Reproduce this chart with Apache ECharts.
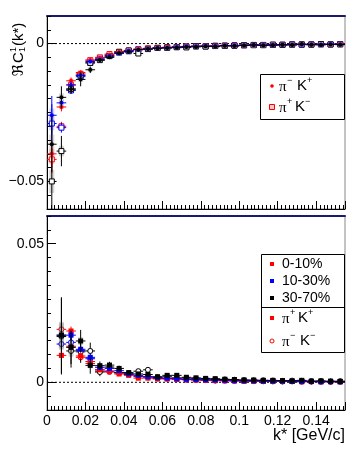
<!DOCTYPE html>
<html><head><meta charset="utf-8">
<script src="https://cdn.jsdelivr.net/npm/echarts@6/dist/echarts.min.js"></script>
<style>html,body{margin:0;padding:0;background:#fff}#c{width:363px;height:457px}</style>
</head><body><div id="c"></div>
<script>
// ---------- DATA ----------
const kTop = [0.0025,0.0075,0.0125,0.0175,0.0225,0.0275,0.0325,0.0375,0.0425,0.0475,0.0525,0.0575,0.0625,0.0675,0.0725,0.0775,0.0825,0.0875,0.0925,0.0975,0.1025,0.1075,0.1125,0.1175,0.1225,0.1275,0.1325,0.1375,0.1425,0.1475,0.1525];
const kBot = [0.0075,0.0125,0.0175,0.0225,0.0275,0.0325,0.0375,0.0425,0.0475,0.0525,0.0575,0.0625,0.0675,0.0725,0.0775,0.0825,0.0875,0.0925,0.0975,0.1025,0.1075,0.1125,0.1175,0.1225,0.1275,0.1325,0.1375,0.1425,0.1475,0.1525];

// top panel: pi- K+ (filled circles)
const pimKp_0_10  = [-0.040,-0.023,-0.0135,-0.0105,-0.006,-0.0052,-0.004,-0.003,-0.0025,-0.002,-0.0018,-0.0015,-0.0014,-0.0012,-0.0011,-0.001,-0.0009,-0.0008,-0.0008,-0.0007,-0.0006,-0.0006,-0.0005,-0.0005,-0.0004,-0.0004,-0.0003,-0.0004,-0.0003,-0.0003,-0.0002];
const pimKp_10_30 = [-0.026,-0.0215,-0.015,-0.0115,-0.0065,-0.0058,-0.0045,-0.0035,-0.0026,-0.0022,-0.0019,-0.0016,-0.0015,-0.0012,-0.0011,-0.001,-0.0009,-0.0009,-0.0007,-0.0007,-0.0006,-0.0006,-0.0005,-0.0004,-0.0005,-0.0004,-0.0003,-0.0003,-0.0003,-0.0002,-0.0003];
const pimKp_30_70 = [-0.0365,-0.0195,-0.0165,-0.013,-0.0095,-0.006,-0.005,-0.0035,-0.003,-0.0022,-0.002,-0.0017,-0.0016,-0.0015,-0.0012,-0.0012,-0.001,-0.0011,-0.0008,-0.0009,-0.0007,-0.0005,-0.0007,-0.0006,-0.0004,-0.0005,-0.0002,-0.0004,-0.0005,-0.0003,-0.0004];
// top panel: pi+ K- (open squares)
const pipKm_0_10  = [-0.042,-0.030,-0.015,-0.011,-0.006,-0.005,-0.0038,-0.003,-0.0025,-0.002,-0.0017,-0.0015,-0.0013,-0.0012,-0.001,-0.0009,-0.0009,-0.0008,-0.0007,-0.0006,-0.0006,-0.0005,-0.0005,-0.0004,-0.0004,-0.0003,-0.0003,-0.0003,-0.0002,-0.0003,-0.0002];
const pipKm_10_30 = [-0.029,-0.0305,-0.017,-0.012,-0.007,-0.0055,-0.0045,-0.0033,-0.0028,-0.0022,-0.0019,-0.0016,-0.0015,-0.0013,-0.0011,-0.001,-0.001,-0.0008,-0.0008,-0.0007,-0.0006,-0.0005,-0.0005,-0.0005,-0.0004,-0.0003,-0.0004,-0.0003,-0.0003,-0.0003,-0.0002];
const pipKm_30_70 = [-0.050,-0.039,-0.0165,-0.0115,-0.007,-0.006,-0.0045,-0.003,-0.0025,-0.0036,-0.002,-0.0016,-0.0015,-0.0013,-0.0014,-0.001,-0.0011,-0.0009,-0.0008,-0.0008,-0.0006,-0.0006,-0.0006,-0.0004,-0.0005,-0.0004,-0.0003,-0.0004,-0.0002,-0.0003,-0.0003];
// top panel stat errors
const errTopSmall = [0.005,0.0016,0.0012,0.0008,0.0006,0.0005,0.0004,0.0004,0.0003,0.0003,0.0003,0.0003,0.0003,0.0002,0.0002,0.0002,0.0002,0.0002,0.0002,0.0002,0.0002,0.0002,0.0002,0.0002,0.0002,0.0002,0.0002,0.0002,0.0002,0.0002,0.0002];
const errTopBlue  = [0.007,0.0018,0.0012,0.0008,0.0006,0.0005,0.0004,0.0004,0.0003,0.0003,0.0003,0.0003,0.0003,0.0002,0.0002,0.0002,0.0002,0.0002,0.0002,0.0002,0.0002,0.0002,0.0002,0.0002,0.0002,0.0002,0.0002,0.0002,0.0002,0.0002,0.0002];
const errTopBlackF= [0.010,0.004,0.0016,0.0025,0.0012,0.0008,0.0006,0.0006,0.0005,0.0005,0.0004,0.0004,0.0004,0.0003,0.0003,0.0003,0.0003,0.0003,0.0003,0.0003,0.0003,0.0003,0.0003,0.0003,0.0003,0.0003,0.0003,0.0003,0.0003,0.0003,0.0003];
const errTopBlackO= [0.012,0.0055,0.0016,0.0012,0.001,0.0008,0.0006,0.0006,0.0005,0.0005,0.0004,0.0004,0.0004,0.0003,0.0003,0.0003,0.0003,0.0003,0.0003,0.0003,0.0003,0.0003,0.0003,0.0003,0.0003,0.0003,0.0003,0.0003,0.0003,0.0003,0.0003];

// bottom panel: pi+ K+ (filled squares)
const pipKp_0_10  = [0.0097,0.0185,0.0095,0.0068,0.0045,0.004,0.003,0.0025,0.0015,0.0015,0.0012,0.0012,0.001,0.0009,0.0008,0.0007,0.0006,0.0005,0.0005,0.0004,0.0004,0.0003,0.0004,0.0003,0.0003,0.0002,0.0003,0.0002,0.0002,0.0002];
const pipKp_10_30 = [0.017,0.017,0.0119,0.009,0.0054,0.005,0.0042,0.003,0.0025,0.002,0.0016,0.0015,0.0013,0.0011,0.001,0.0009,0.0008,0.0007,0.0006,0.0005,0.0005,0.0004,0.0004,0.0004,0.0003,0.0003,0.0003,0.0002,0.0003,0.0002];
const pipKp_30_70 = [0.017,0.0126,0.0149,0.0061,0.006,0.0062,0.005,0.0035,0.003,0.0028,0.002,0.0025,0.0025,0.0018,0.0016,0.0014,0.0013,0.0011,0.001,0.0008,0.0008,0.0007,0.0007,0.0006,0.0005,0.0007,0.0004,0.0005,0.0004,0.0003];
// bottom panel: pi- K- (open circles)
const pimKm_0_10  = [0.0191,0.013,0.009,0.0075,0.004,0.0037,0.0033,0.0028,0.002,0.0018,0.0014,0.0013,0.0011,0.001,0.0009,0.0008,0.0006,0.0006,0.0005,0.0005,0.0004,0.0004,0.0003,0.0003,0.0003,0.0002,0.0002,0.0003,0.0002,0.0002];
const pimKm_10_30 = [0.0138,0.0144,0.0115,0.0085,0.0045,0.004,0.0035,0.003,0.0022,0.002,0.0015,0.0014,0.0012,0.001,0.0009,0.0008,0.0007,0.0007,0.0006,0.0005,0.0005,0.0004,0.0004,0.0003,0.0004,0.0003,0.0003,0.0002,0.0002,0.0002];
const pimKm_30_70 = [0.0165,0.0113,0.011,0.0113,0.0037,0.0055,0.0035,0.003,0.004,0.0045,0.0018,0.002,0.0016,0.0015,0.0013,0.0012,0.001,0.001,0.0009,0.0008,0.0007,0.0007,0.0006,0.0005,0.0006,0.0005,0.0004,0.0004,0.0003,0.0004];
// bottom panel stat errors
const errBotSmall = [0.0018,0.0016,0.0012,0.001,0.0008,0.0006,0.0005,0.0004,0.0004,0.0003,0.0003,0.0003,0.0003,0.0002,0.0002,0.0002,0.0002,0.0002,0.0002,0.0002,0.0002,0.0002,0.0002,0.0002,0.0002,0.0002,0.0002,0.0002,0.0002,0.0002];
const errBotBlack = [0.0137,0.006,0.004,0.003,0.0015,0.0012,0.001,0.0008,0.0007,0.0006,0.0005,0.0005,0.0004,0.0004,0.0003,0.0003,0.0003,0.0003,0.0003,0.0003,0.0003,0.0003,0.0003,0.0003,0.0003,0.0003,0.0003,0.0003,0.0003,0.0003];

const xTicks = [0,0.02,0.04,0.06,0.08,0.1,0.12,0.14];
const yTopLabels = [-0.05,0];
const yBotLabels = [0,0.05];

// ---------- RENDER ----------
const RED='#ff0000', BLUE='#0000ff', BLACK='#000000';
const LIGHT={[RED]:'rgba(255,110,110,0.3)',[BLUE]:'rgba(110,110,255,0.3)',[BLACK]:'rgba(90,90,90,0.25)'};
const HALFBIN = 0.0025;

function makeRender(color, shape){
  return function(params, api){
    const k=api.value(0), v=api.value(1), e=api.value(2);
    const c=api.coord([k,v]);
    const l=api.coord([k-HALFBIN,v]), r=api.coord([k+HALFBIN,v]);
    const t=api.coord([k,v+e]), b=api.coord([k,v-e]);
    const sh=Math.max(2.5, Math.abs(c[1]-t[1])*0.35);
    const ch=[
      {type:'rect',shape:{x:c[0]-2.5,y:c[1]-sh,width:5,height:2*sh},style:{fill:LIGHT[color]}},
      {type:'line',shape:{x1:l[0],y1:c[1],x2:r[0],y2:c[1]},style:{stroke:color,lineWidth:1}},
      {type:'line',shape:{x1:c[0],y1:t[1],x2:c[0],y2:b[1]},style:{stroke:color,lineWidth:1}}
    ];
    if(shape==='dot') ch.push({type:'circle',shape:{cx:c[0],cy:c[1],r:2},style:{fill:color}});
    if(shape==='osq') ch.push({type:'rect',shape:{x:c[0]-2.5,y:c[1]-2.5,width:5,height:5},style:{fill:'#fff',stroke:color,lineWidth:1}});
    if(shape==='fsq') ch.push({type:'rect',shape:{x:c[0]-2.5,y:c[1]-2.5,width:5,height:5},style:{fill:color}});
    if(shape==='ocirc') ch.push({type:'circle',shape:{cx:c[0],cy:c[1],r:2.5},style:{fill:'#fff',stroke:color,lineWidth:1}});
    return {type:'group',children:ch};
  };
}
function ser(grid, ks, vals, errs, color, shape){
  return {type:'custom',xAxisIndex:grid,yAxisIndex:grid*2,clip:true,
    data:ks.map((k,i)=>[k,vals[i],errs[i]]),renderItem:makeRender(color,shape),z:3};
}
function zeroLine(grid){
  return {type:'line',xAxisIndex:grid,yAxisIndex:grid*2,data:[[0,0],[0.155,0]],symbol:'none',silent:true,
    lineStyle:{color:'#000',width:1,type:[2,2]},z:1};
}
const FONT='Liberation Sans';
function xAx(grid, labels){
  return {type:'value',gridIndex:grid,min:0,max:0.155,interval:0.02,position:'bottom',
    axisLine:{show:true,onZero:false,lineStyle:{color:'#000',width:1}},
    axisTick:{show:true,inside:true,length:8,lineStyle:{color:'#000'}},
    minorTick:{show:true,splitNumber:10,length:4,lineStyle:{color:'#000'}},
    splitLine:{show:false},
    axisLabel:{show:labels,margin:4,fontSize:14,fontFamily:FONT,color:'#000',
      formatter:v=>{const f=xTicks.find(t=>Math.abs(t-v)<1e-9);return f===undefined?'':String(f);}}};
}
function xTop(grid){
  return {type:'value',gridIndex:grid,min:0,max:0.155,position:'top',
    axisLine:{show:true,onZero:false,lineStyle:{color:'#1a1a6e',width:2}},
    axisTick:{show:false},axisLabel:{show:false},splitLine:{show:false}};
}
function yAx(grid,min,max,labs){
  return {type:'value',gridIndex:grid,min:min,max:max,interval:0.005,position:'left',
    axisLine:{show:true,onZero:false,lineStyle:{color:'#000',width:1}},
    axisTick:{show:true,inside:true,length:4,lineStyle:{color:'#000'}},
    splitLine:{show:false},
    axisLabel:{show:true,margin:3,fontSize:14,fontFamily:FONT,color:'#000',
      formatter:v=>{const f=labs.find(t=>Math.abs(t-v)<1e-9);return f===undefined?'':(f<0?'\u2212'+String(-f):String(f));}}};
}
function yLong(grid,min,max,labs){
  return {type:'value',gridIndex:grid,min:min,max:max,position:'left',
    axisLine:{show:false,onZero:false},
    axisTick:{show:true,inside:true,length:9,customValues:labs,lineStyle:{color:'#000'}},
    axisLabel:{show:false},splitLine:{show:false}};
}

const chart=echarts.init(document.getElementById('c'),null,{renderer:'canvas'});

function txt(x,y,s,size,fam,align){return {type:'text',x:x,y:y,z:20,silent:true,style:{text:s,fontSize:size,fontFamily:fam||FONT,fill:'#000',textAlign:align||'left',textVerticalAlign:'middle'}};}
const SERIF='Liberation Serif';

const graphics=[
  // y title
  {type:'group',x:19,y:47,rotation:Math.PI/2,silent:true,children:[
    txt(-29,0,'\u211C',15,'DejaVu Sans'),
    txt(-16,0,'C',15),
    txt(-5,-5,'1',9),
    txt(-5,4,'1',9),
    txt(1,0,'(k*)',15)
  ]},
  // x title
  txt(345,436,'k* [GeV/c]',16,FONT,'right'),
  // top legend
  {type:'rect',shape:{x:260.5,y:74.5,width:84,height:45},style:{fill:'#fff',stroke:'#000',lineWidth:1},z:10},
  {type:'circle',shape:{cx:272,cy:86,r:1.8},style:{fill:RED},z:11},
  txt(279,87,'\u03C0',15,SERIF), txt(287,81,'\u2212',9), txt(297,86,'K',15), txt(307,81,'+',9),
  {type:'rect',shape:{x:269.5,y:104.5,width:5,height:5},style:{fill:'rgba(255,120,120,0.4)',stroke:RED,lineWidth:1},z:11},
  txt(279,108,'\u03C0',15,SERIF), txt(287,102,'+',9), txt(295,107,'K',15), txt(305,102,'\u2212',9),
  // bottom legend
  {type:'rect',shape:{x:261.5,y:254.5,width:83,height:98},style:{fill:'#fff',stroke:'#000',lineWidth:1},z:10},
  {type:'line',shape:{x1:261.5,y1:307.5,x2:344.5,y2:307.5},style:{stroke:'#000',lineWidth:1},z:11},
  {type:'rect',shape:{x:270,y:262,width:4,height:4},style:{fill:RED},z:11},
  {type:'rect',shape:{x:270,y:279,width:4,height:4},style:{fill:BLUE},z:11},
  {type:'rect',shape:{x:270,y:296,width:4,height:4},style:{fill:BLACK},z:11},
  {type:'rect',shape:{x:270,y:316,width:4,height:4},style:{fill:RED},z:11},
  {type:'circle',shape:{cx:272,cy:341,r:2},style:{fill:'#fff',stroke:RED,lineWidth:1},z:11},
  txt(282,264,'0-10%',14), txt(282,281,'10-30%',14), txt(282,298,'30-70%',14),
  txt(282,319,'\u03C0',15,SERIF), txt(290,313,'+',9), txt(298,318,'K',15), txt(308,313,'+',9),
  txt(282,342,'\u03C0',15,SERIF), txt(290,336,'\u2212',9), txt(300,341,'K',15), txt(310,336,'\u2212',9)
];

chart.setOption({
  animation:false,
  grid:[
    {left:47,top:16,width:298,height:193,show:true,borderColor:'#888',borderWidth:1,backgroundColor:'#fff'},
    {left:47,top:216,width:298,height:194,show:true,borderColor:'#888',borderWidth:1,backgroundColor:'#fff'}
  ],
  xAxis:[xAx(0,false),xAx(1,true),xTop(0),xTop(1)],
  yAxis:[yAx(0,-0.06,0.01,yTopLabels),yLong(0,-0.06,0.01,yTopLabels),yAx(1,-0.01,0.06,yBotLabels),yLong(1,-0.01,0.06,yBotLabels)],
  series:[
    zeroLine(0), zeroLine(1),
    ser(0,kTop,pipKm_0_10,errTopSmall,RED,'osq'),
    ser(0,kTop,pipKm_10_30,errTopBlue,BLUE,'osq'),
    ser(0,kTop,pipKm_30_70,errTopBlackO,BLACK,'osq'),
    ser(0,kTop,pimKp_0_10,errTopSmall,RED,'dot'),
    ser(0,kTop,pimKp_10_30,errTopBlue,BLUE,'dot'),
    ser(0,kTop,pimKp_30_70,errTopBlackF,BLACK,'dot'),
    ser(1,kBot,pimKm_0_10,errBotSmall,RED,'ocirc'),
    ser(1,kBot,pimKm_10_30,errBotSmall,BLUE,'ocirc'),
    ser(1,kBot,pimKm_30_70,errBotBlack,BLACK,'ocirc'),
    ser(1,kBot,pipKp_0_10,errBotSmall,RED,'fsq'),
    ser(1,kBot,pipKp_10_30,errBotSmall,BLUE,'fsq'),
    ser(1,kBot,pipKp_30_70,errBotBlack,BLACK,'fsq')
  ],
  graphic:graphics
});
</script></body></html>
